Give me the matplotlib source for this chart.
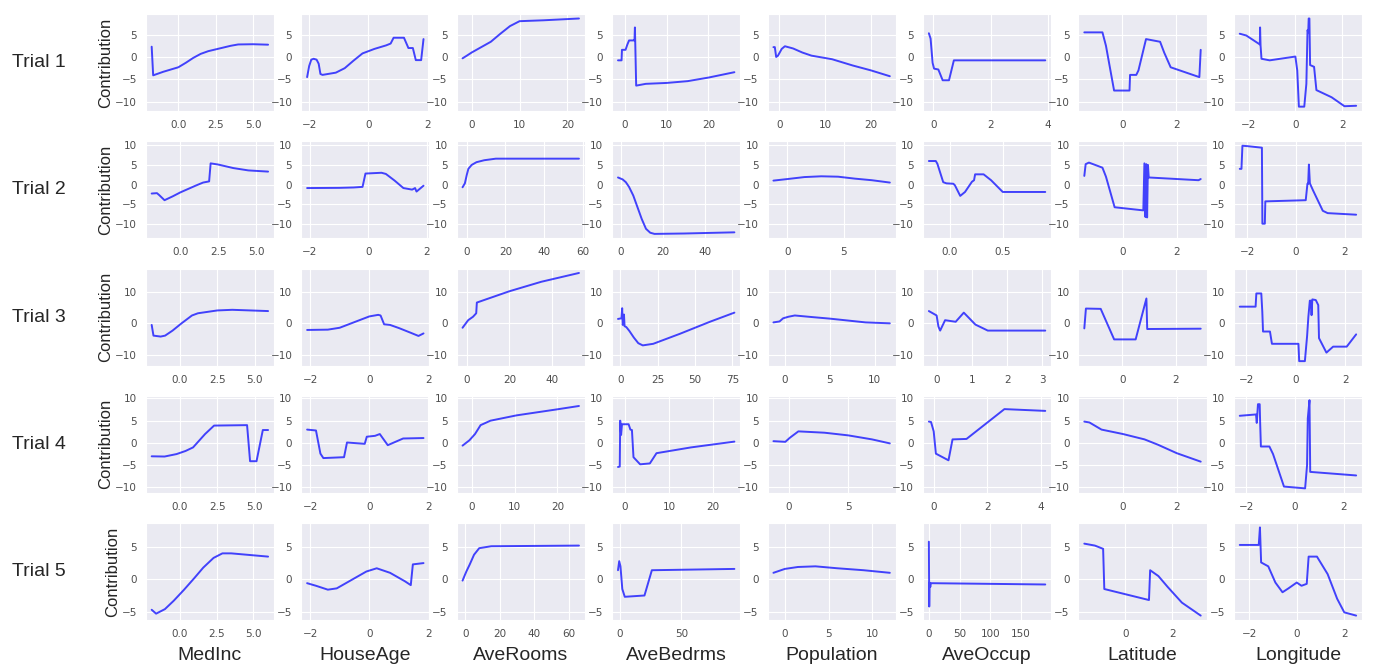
"""Per-feature contribution curves for five training trials."""

import matplotlib

matplotlib.use("Agg")

import matplotlib.pyplot as plt
import seaborn as sns
from matplotlib.ticker import MaxNLocator


FEATURES = ["MedInc", "HouseAge", "AveRooms", "AveBedrms",
            "Population", "AveOccup", "Latitude", "Longitude"]
TRIALS = ["Trial 1", "Trial 2", "Trial 3", "Trial 4", "Trial 5"]
ROW_YTICKS = [[-10, -5, 0, 5], [-10, -5, 0, 5, 10], [-10, 0, 10],
              [-10, -5, 0, 5, 10], [-5, 0, 5]]

# each feature: one list of (x, contribution) points per trial
MEDINC = [
    [(-1.78, 2.3), (-1.68, -4.1), (-1.0, -3.3), (0, -2.3), (0.5, -1.3), (1.0, -0.2),
     (1.5, 0.7), (2.0, 1.3), (2.5, 1.7), (3.0, 2.1), (3.5, 2.5), (4.0, 2.8),
     (5.0, 2.85), (6.0, 2.75)],
    [(-1.9, -2.3), (-1.55, -2.2), (-1.4, -2.7), (-1.05, -4.0), (-0.5, -3.0), (0, -2.0),
     (1.0, -0.3), (1.5, 0.5), (1.9, 0.8), (2.0, 5.4), (2.5, 5.1), (3.5, 4.2),
     (4.5, 3.6), (5.8, 3.3)],
    [(-1.9, -0.5), (-1.78, -3.9), (-1.3, -4.2), (-1.0, -3.9), (-0.5, -2.3), (0.1, 0),
     (0.8, 2.5), (1.2, 3.2), (2.5, 4.1), (3.5, 4.3), (5.9, 3.9)],
    [(-1.86, -3.0), (-1.0, -3.05), (-0.2, -2.5), (0.4, -1.8), (0.9, -1.0), (1.3, 0.5),
     (1.7, 2.0), (2.3, 3.9), (4.5, 4.0), (4.7, -4.1), (5.13, -4.1), (5.55, 2.9),
     (5.9, 2.9)],
    [(-1.9, -4.7), (-1.6, -5.3), (-1.0, -4.6), (-0.4, -3.3), (0.3, -1.6), (1.0, 0.2),
     (1.6, 1.8), (2.3, 3.3), (2.9, 4.0), (3.5, 4.0), (4.5, 3.8), (6.0, 3.5)],
]

HOUSEAGE = [
    [(-2.07, -4.5), (-2.0, -2.0), (-1.93, -0.6), (-1.85, -0.4), (-1.75, -0.6),
     (-1.68, -1.5), (-1.62, -3.8), (-1.55, -4.0), (-1.1, -3.5), (-0.8, -2.5),
     (-0.5, -0.8), (-0.2, 0.8), (0.2, 1.8), (0.6, 2.6), (0.75, 3.0), (0.85, 4.3),
     (1.2, 4.3), (1.35, 2.0), (1.5, 2.0), (1.6, -0.7), (1.78, -0.7), (1.86, 4.0)],
    [(-2.1, -0.9), (-1.0, -0.85), (-0.5, -0.75), (-0.2, -0.6), (-0.1, 2.8), (0.45, 3.0),
     (0.6, 2.7), (0.9, 1.0), (1.2, -0.9), (1.5, -1.3), (1.6, -0.9), (1.65, -1.8),
     (1.89, -0.3)],
    [(-2.1, -2.1), (-1.4, -2.0), (-1.0, -1.4), (-0.5, 0.4), (0.0, 2.2), (0.3, 2.7),
     (0.38, 2.5), (0.5, -0.3), (0.7, -0.5), (1.0, -1.5), (1.4, -3.0), (1.66, -4.0),
     (1.83, -3.2)],
    [(-2.1, 3.0), (-1.8, 2.8), (-1.65, -2.4), (-1.55, -3.4), (-0.85, -3.2),
     (-0.75, 0.1), (-0.15, -0.2), (-0.08, 1.4), (0.2, 1.6), (0.36, 2.0), (0.63, -0.5),
     (1.15, 1.0), (1.84, 1.1)],
    [(-2.1, -0.6), (-1.8, -1.0), (-1.4, -1.6), (-1.1, -1.4), (-0.6, -0.1), (-0.1, 1.2),
     (0.25, 1.7), (0.7, 1.0), (1.2, -0.3), (1.4, -0.9), (1.47, 2.3), (1.83, 2.5)],
]

AVEROOMS = [
    [(-1.9, -0.3), (-1, 0.3), (0, 1.0), (2, 2.2), (4, 3.4), (6, 5.2), (8, 6.9),
     (10, 8.0), (15, 8.2), (22.4, 8.6)],
    [(-2.2, -0.7), (-1.0, 0.3), (0, 2.5), (0.8, 4.0), (2.5, 5.0), (5, 5.7), (9, 6.2),
     (15, 6.6), (58, 6.6)],
    [(-2.15, -1.4), (0.5, 1.0), (2.8, 2.1), (4.3, 3.2), (4.6, 6.6), (8, 7.4),
     (20, 10.2), (35, 13.2), (52.8, 16.0)],
    [(-2.1, -0.6), (-0.5, 0.6), (0.8, 2.0), (2.1, 4.0), (4.4, 5.0), (10.5, 6.2),
     (19.6, 7.5), (25, 8.3)],
    [(-1.7, -0.2), (0.5, 1.2), (2.5, 2.3), (5, 3.8), (8, 4.8), (15, 5.1), (66, 5.2)],
]

AVEBEDRMS = [
    [(-1.65, -0.75), (-0.8, -0.75), (-0.7, 1.6), (0.15, 1.6), (0.6, 2.8), (1.0, 3.7),
     (2.2, 3.7), (2.3, 3.7), (2.4, 6.6), (2.7, -6.4), (5, -6.0), (10, -5.8),
     (15, -5.4), (20, -4.6), (26.2, -3.4)],
    [(-1.2, 1.8), (1, 1.3), (2.5, 0.6), (4, -0.6), (6, -2.8), (8, -5.8), (10, -8.8),
     (12, -11.3), (14, -12.3), (16, -12.6), (30, -12.5), (53.7, -12.2)],
    [(-1.6, 1.4), (0.7, 1.6), (1.2, 4.8), (1.6, -0.5), (2.4, 2.8), (2.8, -0.9),
     (4, -1.2), (6, -2.4), (9, -4.5), (12, -6.3), (15, -7.0), (22, -6.5),
     (40, -3.3), (60, 0.5), (76.4, 3.4)],
    [(-1.5, -5.4), (-1.1, -5.3), (-1.0, 5.0), (-0.8, 1.8), (-0.6, 4.2), (0.9, 4.2),
     (1.3, 3.0), (1.65, 2.9), (2.0, -3.2), (3.5, -4.8), (5.7, -4.6), (7.2, -2.3),
     (15, -1.0), (24.8, 0.3)],
    [(-1.5, 1.4), (-0.5, 2.8), (0.5, 2.0), (2, -1.5), (4, -2.7), (20, -2.5),
     (26, 1.4), (93, 1.6)],
]

POPULATION = [
    [(-1.3, 2.2), (-1.0, 2.2), (-0.7, 0.0), (-0.3, 0.3), (0.5, 1.8), (1.2, 2.4),
     (3, 1.9), (5, 1.0), (7, 0.3), (11.5, -0.5), (16, -1.9), (20, -3.0), (24.1, -4.3)],
    [(-1.25, 1.0), (0, 1.4), (1.5, 1.9), (3, 2.1), (4.5, 2.0), (6, 1.5), (7.5, 1.1),
     (9.1, 0.5)],
    [(-1.28, 0.3), (-0.6, 0.6), (-0.2, 1.6), (0.4, 2.1), (1.1, 2.5), (3, 2.0),
     (5, 1.5), (7, 0.9), (9, 0.3), (11.7, 0.0)],
    [(-1.3, 0.4), (-0.3, 0.25), (0.1, 1.2), (0.8, 2.6), (3.0, 2.3), (5, 1.7),
     (7, 0.8), (8.5, -0.1)],
    [(-1.3, 1.0), (0, 1.6), (1.5, 1.9), (3.5, 2.0), (6, 1.7), (9, 1.4), (12, 1.0)],
]

AVEOCCUP = [
    [(-0.15, 5.3), (-0.09, 4.1), (-0.02, -1.3), (0.03, -2.6), (0.18, -2.8),
     (0.33, -5.2), (0.55, -5.2), (0.72, -0.75), (3.9, -0.75)],
    [(-0.195, 6.0), (-0.13, 6.0), (-0.115, 5.3), (-0.06, 0.6), (-0.03, 0.3),
     (0.035, 0.2), (0.05, -0.2), (0.1, -2.9), (0.145, -1.9), (0.21, 0.7), (0.23, 1.1),
     (0.24, 2.6), (0.32, 2.6), (0.39, 1.1), (0.5, -1.9), (0.9, -1.9)],
    [(-0.22, 3.9), (0.0, 2.5), (0.05, -1.0), (0.1, -2.3), (0.24, 1.0), (0.54, 0.5),
     (0.77, 3.4), (1.1, -0.4), (1.45, -2.3), (3.08, -2.3)],
    [(-0.18, 4.8), (-0.1, 4.7), (0.0, 2.6), (0.08, -2.4), (0.55, -3.9), (0.7, 0.8),
     (1.22, 0.9), (2.63, 7.6), (4.15, 7.2)],
    [(-0.3, 5.8), (0.3, -4.2), (0.8, -0.5), (2, -1.2), (3, -0.6), (190, -0.8)],
]

LATITUDE = [
    [(-1.4, 5.5), (-0.73, 5.5), (-0.6, 2.5), (-0.3, -7.5), (0.27, -7.5), (0.29, -4.0),
     (0.52, -4.0), (0.6, -3.0), (0.88, 4.0), (1.4, 3.4), (1.55, 1.0), (1.79, -2.3),
     (2.85, -4.5), (2.9, 1.6)],
    [(-1.42, 2.2), (-1.37, 5.2), (-1.25, 5.6), (-0.75, 4.3), (-0.62, 2.0),
     (-0.3, -5.8), (0.76, -6.6), (0.8, 5.4), (0.84, -8.3), (0.87, 5.2), (0.9, -8.4),
     (0.93, 5.0), (0.96, 1.8), (2.8, 1.1), (2.88, 1.4)],
    [(-1.41, -1.6), (-1.35, 4.7), (-0.8, 4.6), (-0.3, -5.1), (0.5, -5.1), (0.9, 7.9),
     (0.93, -1.8), (2.92, -1.7)],
    [(-1.44, 4.8), (-1.25, 4.6), (-0.8, 3.0), (0.0, 2.0), (0.8, 0.8), (1.3, -0.4),
     (2.0, -2.3), (2.89, -4.2)],
    [(-1.75, 5.5), (-1.3, 5.2), (-0.95, 4.7), (-0.9, -1.5), (1.0, -3.2), (1.05, 1.4),
     (1.4, 0.5), (1.8, -1.2), (2.4, -3.6), (3.2, -5.6)],
]

LONGITUDE = [
    [(-2.38, 5.2), (-2.1, 4.8), (-1.52, 2.8), (-1.51, 6.6), (-1.49, 2.6), (-1.45, -0.4),
     (-1.1, -0.75), (0.0, 0.1), (0.08, -3.0), (0.15, -11.1), (0.38, -11.1),
     (0.47, -6.0), (0.52, 6.0), (0.55, 5.5), (0.57, 8.6), (0.6, 8.6), (0.63, -1.8),
     (0.8, -2.2), (0.9, -7.4), (1.55, -9.0), (2.1, -11.0), (2.6, -10.9)],
    [(-2.31, 4.0), (-2.24, 4.0), (-2.2, 9.9), (-2.0, 9.8), (-1.4, 9.4), (-1.38, -10.0),
     (-1.28, -10.0), (-1.26, -4.3), (0.4, -4.0), (0.47, 0.2), (0.5, 0.2), (0.53, 5.1),
     (0.57, 0.3), (0.7, -1.5), (1.1, -6.7), (1.3, -7.3), (2.47, -7.7)],
    [(-2.27, 5.3), (-1.63, 5.3), (-1.6, 9.5), (-1.4, 9.5), (-1.36, 3.8), (-1.33, -2.6),
     (-1.05, -2.6), (-0.97, -6.5), (0.1, -6.5), (0.13, -12.0), (0.36, -12.0),
     (0.45, -4.0), (0.5, 2.0), (0.56, 7.2), (0.6, 7.2), (0.63, 2.6), (0.66, 7.6),
     (0.8, 7.4), (0.9, 5.8), (0.93, -4.7), (1.23, -9.3), (1.5, -7.4), (2.05, -7.4),
     (2.43, -3.5)],
    [(-2.27, 6.1), (-1.6, 6.4), (-1.57, 4.5), (-1.52, 8.7), (-1.45, 8.7), (-1.43, 4.5),
     (-1.4, -0.8), (-1.05, -0.8), (-0.9, -2.5), (-0.45, -9.8), (0.42, -10.2),
     (0.5, -5.0), (0.53, 5.5), (0.6, 9.6), (0.63, -6.5), (2.52, -7.3)],
    [(-2.4, 5.3), (-1.6, 5.3), (-1.55, 8.0), (-1.5, 2.6), (-1.2, 2.0), (-0.9, -0.5),
     (-0.6, -2.0), (-0.35, -1.4), (0.0, -0.5), (0.2, -1.0), (0.42, -0.7), (0.5, 3.5),
     (0.85, 3.5), (1.3, 0.8), (1.7, -3.0), (2.0, -5.1), (2.5, -5.6)],
]

CURVES = [MEDINC, HOUSEAGE, AVEROOMS, AVEBEDRMS, POPULATION, AVEOCCUP, LATITUDE, LONGITUDE]

LABEL_FONT = "Liberation Sans"

sns.set_style("darkgrid")

fig, axes = plt.subplots(5, 8, figsize=(13.76, 6.71), dpi=100, sharey="row")
fig.subplots_adjust(left=0.106, right=0.9898, top=0.979, bottom=0.076,
                    wspace=0.214, hspace=0.312)

for col, feature_curves in enumerate(CURVES):
    for row, points in enumerate(feature_curves):
        ax = axes[row, col]
        xs = [p[0] for p in points]
        ys = [p[1] for p in points]
        ax.plot(xs, ys, color="blue", alpha=0.72, linewidth=1.4)
        # wide AveOccup range in trial 5 needs one more bin to land on 50s
        nbins = 5 if (row, col) == (4, 5) else 4
        ax.xaxis.set_major_locator(MaxNLocator(nbins, steps=[1, 2, 2.5, 5, 10]))
        ax.tick_params(labelleft=True, labelsize=7.5, labelcolor="0.3", pad=3)

for row, trial in enumerate(TRIALS):
    axes[row, 0].set_yticks(ROW_YTICKS[row])
    axes[row, 0].set_ylabel("Contribution", fontsize=12, family=LABEL_FONT, labelpad=1)
    box = axes[row, 0].get_position()
    fig.text(12 / 1376, (box.y0 + box.y1) / 2, trial, ha="left", va="center",
             fontsize=14, family=LABEL_FONT)

for col, feature in enumerate(FEATURES):
    axes[-1, col].set_xlabel(feature, fontsize=14, family=LABEL_FONT, labelpad=6)

fig.savefig("out.png", dpi=100)
